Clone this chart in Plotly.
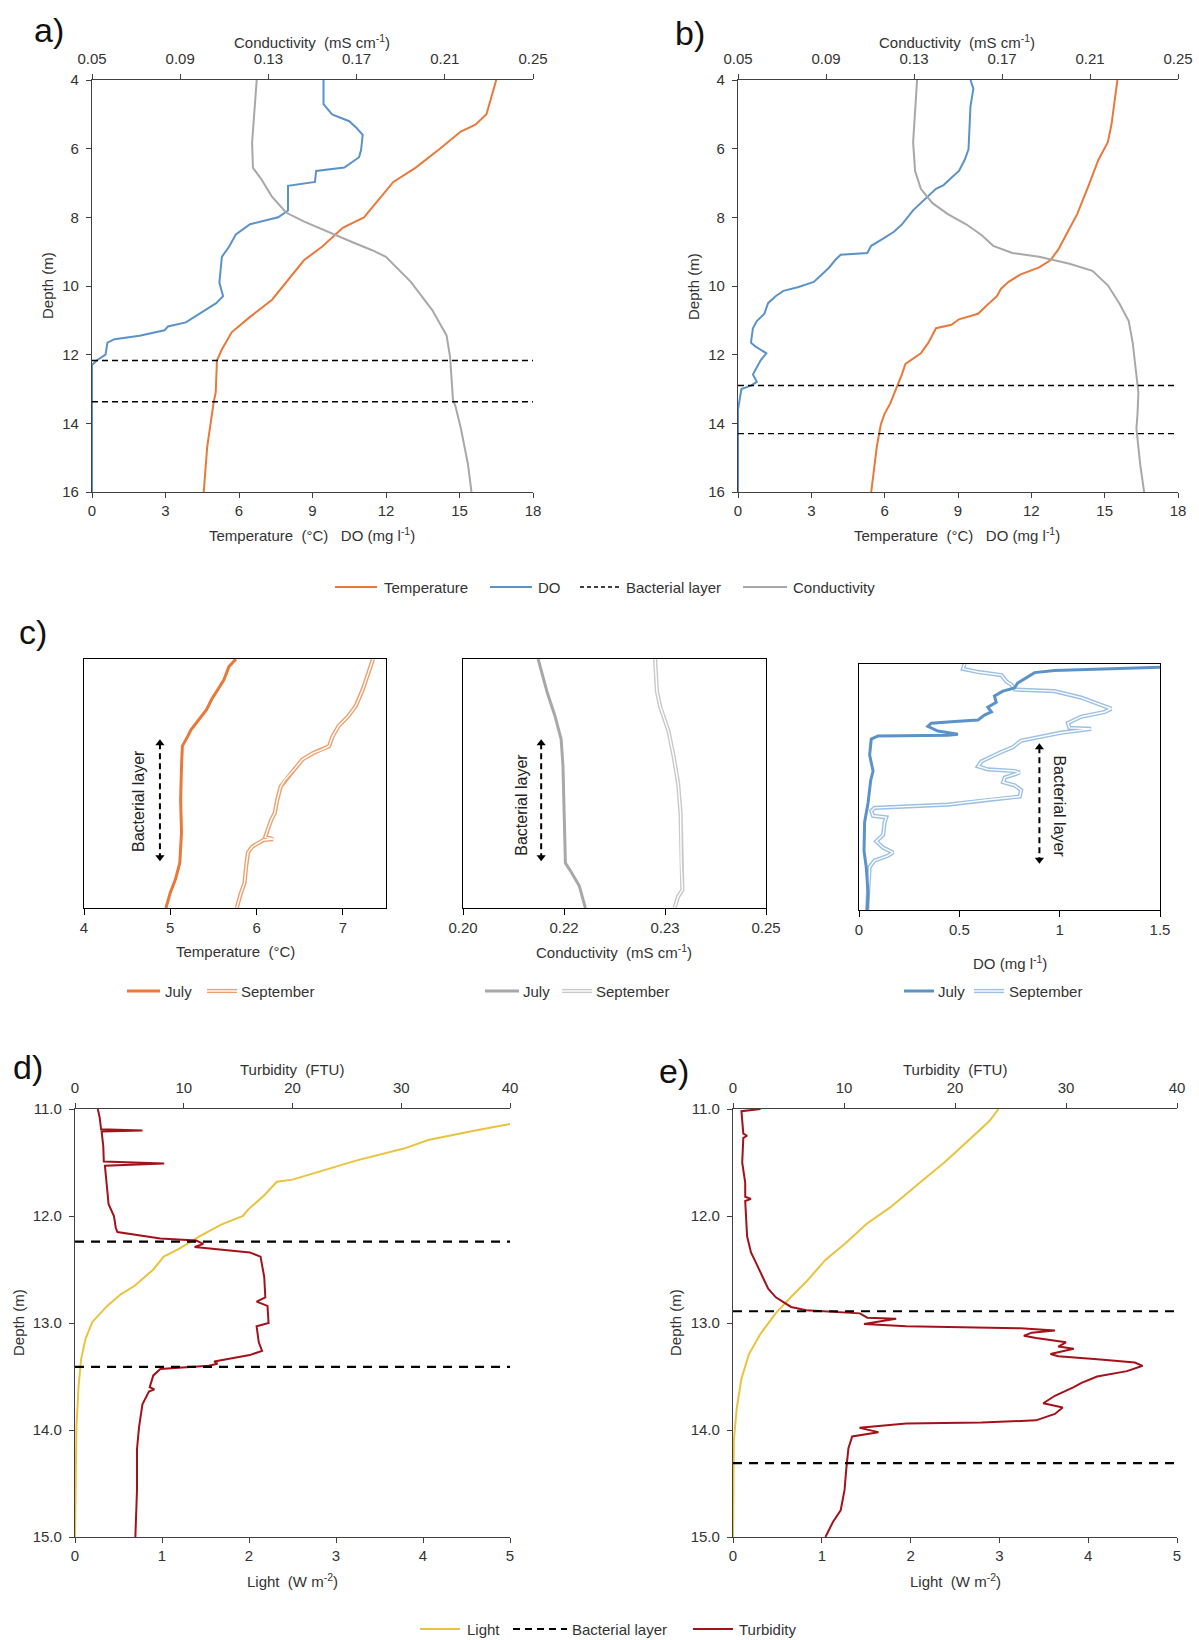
import plotly.graph_objects as go

W, H = 1199, 1640
def px(x): return x / W
def py(y): return 1 - y / H

# ---------------- DATA ----------------
# Panel a (July)
a_temp_depth = [4.0, 5.0, 5.3, 5.5, 6.0, 6.56, 6.97, 7.5, 8.0, 8.3, 8.85, 9.25, 9.9, 10.4, 10.9, 11.35, 11.85, 12.17, 13.1, 13.37, 14.7, 16.0]
a_temp = [16.5, 16.1, 15.65, 15.05, 14.2, 13.2, 12.3, 11.7, 11.1, 10.25, 9.4, 8.65, 7.9, 7.35, 6.45, 5.7, 5.3, 5.1, 5.05, 4.97, 4.7, 4.56]
a_do_depth = [4.0, 4.7, 5.0, 5.2, 5.4, 5.6, 6.05, 6.25, 6.55, 6.65, 6.97, 7.08, 7.8, 8.0, 8.2, 8.5, 8.85, 9.15, 9.9, 10.3, 10.5, 10.8, 11.06, 11.18, 11.29, 11.45, 11.55, 11.65, 12.0, 12.17, 12.3, 16.0]
a_do = [9.45, 9.45, 9.8, 10.5, 10.8, 11.05, 10.98, 10.9, 10.3, 9.15, 9.1, 8.0, 8.0, 7.6, 6.45, 5.87, 5.6, 5.3, 5.2, 5.35, 5.07, 4.4, 3.83, 3.1, 2.96, 1.94, 0.92, 0.63, 0.55, 0.19, 0.0, 0.0]
a_cond_depth = [4.0, 5.83, 6.56, 6.87, 7.39, 7.86, 8.12, 8.43, 8.74, 8.95, 9.15, 9.88, 10.7, 11.44, 12.07, 13.31, 13.52, 14.15, 15.19, 16.0]
a_cond = [0.1247, 0.1226, 0.123, 0.1266, 0.1315, 0.138, 0.146, 0.157, 0.1687, 0.1768, 0.1833, 0.1946, 0.2043, 0.2108, 0.2124, 0.2137, 0.2149, 0.2173, 0.2205, 0.2221]
a_layer = [12.17, 13.37]

# Panel b (September)
b_temp_depth = [4.0, 5.29, 5.81, 6.13, 6.33, 7.06, 7.9, 8.42, 8.94, 9.25, 9.46, 9.67, 9.88, 10.08, 10.29, 10.6, 10.81, 10.97, 11.13, 11.23, 11.65, 11.96, 12.27, 12.58, 13.0, 13.42, 13.73, 14.04, 14.67, 16.0]
b_temp = [15.52, 15.28, 15.13, 14.9, 14.74, 14.35, 13.88, 13.49, 13.1, 12.78, 12.32, 11.54, 11.07, 10.76, 10.6, 10.13, 9.82, 9.04, 8.73, 8.1, 7.79, 7.48, 6.85, 6.7, 6.46, 6.23, 5.99, 5.84, 5.68, 5.45]
b_do_depth = [4.0, 4.25, 4.77, 6.02, 6.33, 6.65, 6.85, 7.06, 7.17, 7.48, 7.79, 8.21, 8.42, 8.63, 8.83, 9.04, 9.09, 9.25, 9.46, 9.67, 9.88, 10.03, 10.14, 10.29, 10.5, 10.81, 11.02, 11.23, 11.65, 11.75, 11.96, 12.17, 12.38, 12.58, 12.79, 12.9, 13.0, 13.42, 13.6, 16.0]
b_do = [9.51, 9.63, 9.51, 9.43, 9.27, 9.04, 8.73, 8.41, 8.1, 7.63, 7.17, 6.7, 6.38, 5.92, 5.45, 5.29, 4.2, 3.97, 3.73, 3.42, 3.1, 2.48, 1.86, 1.55, 1.23, 1.08, 0.77, 0.61, 0.53, 0.69, 1.16, 0.92, 0.77, 0.61, 0.77, 0.53, 0.14, 0.06, 0.0, 0.0]
b_cond_depth = [4.0, 4.77, 5.81, 6.65, 7.17, 7.58, 7.9, 8.21, 8.52, 8.83, 9.04, 9.15, 9.35, 9.56, 9.98, 10.5, 11.02, 11.65, 12.58, 13.1, 13.73, 14.15, 15.19, 16.0]
b_cond = [0.1314, 0.1305, 0.1296, 0.1305, 0.1331, 0.1383, 0.1452, 0.1539, 0.1608, 0.166, 0.1747, 0.1869, 0.2007, 0.2111, 0.2181, 0.2233, 0.2276, 0.2294, 0.2311, 0.232, 0.2316, 0.2311, 0.2328, 0.2346]
b_layer = [12.9, 14.3]

# Panel c (close-up around bacterial layer, relative depth)
c_jul_temp_depth = [11.3, 11.38, 11.52, 11.62, 11.72, 11.83, 11.93, 12.04, 12.11, 12.21, 12.42, 12.77, 13.11, 13.43, 13.6, 13.74, 13.9]
c_jul_temp = [5.76, 5.68, 5.62, 5.55, 5.48, 5.42, 5.33, 5.24, 5.2, 5.14, 5.13, 5.12, 5.13, 5.11, 5.06, 5.0, 4.95]
c_sep_temp_depth = [11.3, 11.48, 11.62, 11.79, 11.9, 12.0, 12.11, 12.21, 12.25, 12.28, 12.35, 12.45, 12.56, 12.63, 12.77, 12.91, 12.98, 13.08, 13.16, 13.18, 13.19, 13.26, 13.32, 13.46, 13.64, 13.74, 13.9]
c_sep_temp = [7.35, 7.28, 7.23, 7.15, 7.06, 6.95, 6.88, 6.84, 6.75, 6.66, 6.53, 6.44, 6.33, 6.28, 6.24, 6.21, 6.17, 6.13, 6.1, 6.19, 6.08, 5.95, 5.9, 5.88, 5.86, 5.82, 5.77]
c_jul_cond_depth = [11.3, 11.48, 11.65, 11.9, 12.14, 12.42, 13.11, 13.43, 13.53, 13.67, 13.81, 13.9]
c_jul_cond = [0.2124, 0.2132, 0.2139, 0.2152, 0.2162, 0.2165, 0.2167, 0.2169, 0.2179, 0.2192, 0.2198, 0.2202]
c_sep_cond_depth = [11.3, 11.64, 11.81, 12.05, 12.33, 12.6, 12.91, 13.43, 13.71, 13.78, 13.9]
c_sep_cond = [0.2317, 0.232, 0.2326, 0.2339, 0.2348, 0.2355, 0.2359, 0.236, 0.2362, 0.2355, 0.2349]
c_jul_do_depth = [11.334, 11.368, 11.391, 11.452, 11.503, 11.553, 11.587, 11.638, 11.705, 11.756, 11.807, 11.84, 11.891, 11.908, 11.925, 11.959, 12.009, 12.043, 12.053, 12.06, 12.094, 12.262, 12.431, 12.533, 12.769, 12.972, 13.276, 13.444, 13.714, 13.9]
c_jul_do = [1.5, 0.974, 0.875, 0.825, 0.79, 0.775, 0.717, 0.675, 0.684, 0.642, 0.66, 0.625, 0.593, 0.477, 0.36, 0.343, 0.393, 0.493, 0.443, 0.095, 0.061, 0.053, 0.07, 0.058, 0.045, 0.028, 0.025, 0.036, 0.045, 0.041]
c_sep_do_depth = [11.3, 11.351, 11.384, 11.418, 11.486, 11.519, 11.57, 11.587, 11.655, 11.722, 11.773, 11.807, 11.857, 11.925, 11.975, 11.986, 12.026, 12.11, 12.178, 12.229, 12.33, 12.381, 12.414, 12.431, 12.448, 12.499, 12.549, 12.583, 12.634, 12.701, 12.735, 12.786, 12.82, 12.853, 12.904, 12.921, 12.972, 13.107, 13.174, 13.242, 13.292, 13.326, 13.377, 13.444, 13.714, 13.9]
c_sep_do = [0.526, 0.518, 0.593, 0.71, 0.735, 0.76, 0.776, 0.974, 1.107, 1.19, 1.257, 1.224, 1.107, 1.041, 1.049, 1.157, 1.007, 0.808, 0.767, 0.71, 0.61, 0.593, 0.643, 0.776, 0.801, 0.727, 0.718, 0.776, 0.808, 0.801, 0.643, 0.443, 0.078, 0.061, 0.07, 0.136, 0.128, 0.12, 0.086, 0.12, 0.169, 0.145, 0.078, 0.053, 0.045, 0.041]
c_layer = [12.18, 13.37]

# Panel d (July light / turbidity)
d_light_depth = [11.14, 11.2, 11.29, 11.37, 11.48, 11.58, 11.66, 11.68, 11.81, 11.94, 12.0, 12.08, 12.19, 12.31, 12.38, 12.5, 12.65, 12.73, 12.84, 12.99, 13.15, 13.34, 13.6, 13.98, 14.56, 15.0]
d_light = [5.0, 4.6, 4.06, 3.78, 3.24, 2.83, 2.5, 2.32, 2.17, 1.99, 1.93, 1.68, 1.43, 1.19, 1.02, 0.9, 0.69, 0.53, 0.37, 0.2, 0.12, 0.07, 0.04, 0.016, 0.004, 0.0]
d_turb_depth = [11.0, 11.08, 11.19, 11.2, 11.21, 11.35, 11.49, 11.51, 11.53, 11.69, 11.89, 12.0, 12.11, 12.15, 12.21, 12.23, 12.26, 12.29, 12.34, 12.38, 12.57, 12.76, 12.8, 12.84, 13.0, 13.03, 13.18, 13.26, 13.3, 13.36, 13.38, 13.4, 13.43, 13.49, 13.6, 13.62, 13.64, 13.76, 13.98, 14.18, 14.56, 15.0]
d_turb = [2.1, 2.27, 2.4, 6.2, 2.45, 2.6, 2.65, 8.2, 2.75, 2.92, 3.09, 3.58, 3.75, 3.9, 7.85, 11.14, 11.8, 11.0, 16.07, 17.06, 17.4, 17.5, 16.7, 17.7, 17.8, 16.7, 16.9, 17.2, 16.07, 12.8, 13.1, 12.3, 7.85, 7.2, 6.87, 7.3, 6.8, 6.2, 5.88, 5.7, 5.7, 5.55]
d_layer = [12.24, 13.41]

# Panel e (September light / turbidity)
e_light_depth = [11.0, 11.11, 11.31, 11.5, 11.65, 11.8, 11.92, 12.07, 12.26, 12.41, 12.61, 12.76, 12.91, 13.1, 13.29, 13.52, 13.79, 14.1, 15.0]
e_light = [2.99, 2.89, 2.63, 2.38, 2.16, 1.94, 1.77, 1.51, 1.26, 1.04, 0.83, 0.65, 0.48, 0.31, 0.18, 0.095, 0.043, 0.009, 0.0]
e_turb_depth = [11.0, 11.02, 11.23, 11.25, 11.27, 11.5, 11.69, 11.82, 11.84, 11.86, 12.19, 12.34, 12.45, 12.57, 12.68, 12.76, 12.85, 12.88, 12.91, 12.95, 12.96, 13.01, 13.03, 13.05, 13.07, 13.09, 13.12, 13.14, 13.18, 13.22, 13.24, 13.29, 13.31, 13.34, 13.37, 13.4, 13.45, 13.5, 13.56, 13.6, 13.68, 13.75, 13.79, 13.85, 13.91, 13.93, 13.94, 13.98, 14.02, 14.06, 14.17, 14.37, 14.56, 14.75, 14.86, 15.0]
e_turb = [2.48, 0.76, 0.93, 1.27, 0.93, 0.83, 1.1, 1.1, 1.62, 1.1, 1.27, 1.62, 2.13, 2.65, 3.17, 3.86, 5.23, 6.6, 11.43, 12.1, 14.7, 11.8, 15.6, 25.9, 29.0, 26.9, 26.2, 27.3, 30.0, 29.3, 30.7, 28.6, 29.3, 33.1, 36.2, 36.9, 35.5, 32.8, 31.4, 30.7, 29.0, 27.95, 29.7, 29.0, 27.3, 22.4, 15.6, 11.4, 13.1, 10.74, 10.4, 10.2, 10.05, 9.7, 9.0, 8.33]
e_layer = [12.89, 14.31]

# tick definitions
ab_x_ticks = [0, 3, 6, 9, 12, 15, 18]
ab_cond_ticks = [0.05, 0.09, 0.13, 0.17, 0.21, 0.25]
ab_cond_labels = ["0.05", "0.09", "0.13", "0.17", "0.21", "0.25"]
ab_depth_ticks = [4, 6, 8, 10, 12, 14, 16]
c1_ticks = [4, 5, 6, 7]
c2_ticks = [0.20, 0.216667, 0.233333, 0.25]
c2_labels = ["0.20", "0.22", "0.23", "0.25"]
c3_ticks = [0, 0.5, 1, 1.5]
c3_labels = ["0", "0.5", "1", "1.5"]
de_light_ticks = [0, 1, 2, 3, 4, 5]
de_turb_ticks = [0, 10, 20, 30, 40]
de_depth_ticks = [11, 12, 13, 14, 15]
de_depth_labels = ["11.0", "12.0", "13.0", "14.0", "15.0"]

# ---------------- STYLE ----------------
FONT = "Liberation Sans, Arial, sans-serif"
TXT = "#333333"
AX = "#404040"
ORANGE = "#E8793A"
ORANGE_L = "#EDA06E"
BLUE = "#5B93C9"
BLUE_L = "#9CC0E4"
GRAY = "#A8A8A8"
GRAY_L = "#C9C9C9"
YELLOW = "#E9C33E"
RED = "#A3121A"

fig = go.Figure()

def line(x, y, xa, ya, color, width=2, dash=None):
    fig.add_trace(go.Scatter(x=x, y=y, xaxis=xa, yaxis=ya, mode="lines",
                             line=dict(color=color, width=width, dash=dash),
                             showlegend=False, hoverinfo="skip"))

def double_line(x, y, xa, ya, color):
    line(x, y, xa, ya, color, width=4.2)
    line(x, y, xa, ya, "white", width=1.4)

# panel a
line(a_cond, a_cond_depth, "x2", "y", GRAY)
line(a_temp, a_temp_depth, "x", "y", ORANGE)
line(a_do, a_do_depth, "x", "y", BLUE)
# panel b
line(b_cond, b_cond_depth, "x4", "y2", GRAY)
line(b_temp, b_temp_depth, "x3", "y2", ORANGE)
line(b_do, b_do_depth, "x3", "y2", BLUE)
# panel c
line(c_jul_temp, c_jul_temp_depth, "x5", "y3", ORANGE, width=3)
double_line(c_sep_temp, c_sep_temp_depth, "x5", "y3", ORANGE_L)
line(c_jul_cond, c_jul_cond_depth, "x6", "y4", GRAY, width=3)
double_line(c_sep_cond, c_sep_cond_depth, "x6", "y4", GRAY_L)
double_line(c_sep_do, c_sep_do_depth, "x7", "y5", BLUE_L)
line(c_jul_do, c_jul_do_depth, "x7", "y5", BLUE, width=3)
# panel d
line(d_light, d_light_depth, "x8", "y6", YELLOW)
line(d_turb, d_turb_depth, "x9", "y6", RED)
# panel e
line(e_light, e_light_depth, "x10", "y7", YELLOW)
line(e_turb, e_turb_depth, "x11", "y7", RED)

# bacterial layer arrows in panel c
arrow_pos = [("x5", "y3", 4.88), ("x6", "y4", 0.2129), ("x7", "y5", 0.899)]
for xa, ya, xv in arrow_pos:
    fig.add_trace(go.Scatter(x=[xv, xv], y=c_layer, xaxis=xa, yaxis=ya,
                             mode="lines+markers",
                             line=dict(color="black", width=2, dash="6px,4px"),
                             marker=dict(symbol=["triangle-up", "triangle-down"], size=8, color="black"),
                             showlegend=False, hoverinfo="skip"))

# ---------------- AXES ----------------
tickfont = dict(family=FONT, size=15, color=TXT)

def base_axis(**kw):
    d = dict(showgrid=False, zeroline=False, showline=True, linecolor=AX, linewidth=1.3,
             ticks="outside", ticklen=5, tickcolor=AX, tickwidth=1.2, tickfont=tickfont)
    d.update(kw)
    return d

a_dom = [px(92), px(533)]
b_dom = [px(738), px(1178)]
ab_ydom = [py(492), py(80)]
c1_dom = [px(84), px(386)]
c2_dom = [px(463), px(766)]
c3_dom = [px(859), px(1160)]
c12_ydom = [py(908), py(659)]
c3_ydom = [py(910), py(664)]
d_dom = [px(75), px(510)]
e_dom = [px(733), px(1177)]
de_ydom = [py(1537), py(1109)]

layout = dict(
    width=W, height=H, margin=dict(l=0, r=0, t=0, b=0),
    paper_bgcolor="white", plot_bgcolor="white", template="none",
    font=dict(family=FONT, color=TXT, size=15), showlegend=False,
    # a
    xaxis=base_axis(domain=a_dom, range=[0, 18], tickvals=ab_x_ticks, anchor="y"),
    xaxis2=base_axis(overlaying="x", side="top", range=[0.05, 0.25], tickvals=ab_cond_ticks,
                     ticktext=ab_cond_labels, anchor="y", ticklabelstandoff=4),
    yaxis=base_axis(domain=ab_ydom, range=[16, 4], tickvals=ab_depth_ticks, anchor="x", ticklabelstandoff=4),
    # b
    xaxis3=base_axis(domain=b_dom, range=[0, 18], tickvals=ab_x_ticks, anchor="y2"),
    xaxis4=base_axis(overlaying="x3", side="top", range=[0.05, 0.25], tickvals=ab_cond_ticks,
                     ticktext=ab_cond_labels, anchor="y2", ticklabelstandoff=4),
    yaxis2=base_axis(domain=ab_ydom, range=[16, 4], tickvals=ab_depth_ticks, anchor="x3", ticklabelstandoff=4),
    # c
    xaxis5=base_axis(domain=c1_dom, range=[4, 7.5], tickvals=c1_ticks, anchor="y3", mirror=True,
                     linecolor="black", tickcolor="black", ticklen=6),
    yaxis3=base_axis(domain=c12_ydom, range=[13.9, 11.3], anchor="x5", mirror=True, ticks="",
                     showticklabels=False, linecolor="black"),
    xaxis6=base_axis(domain=c2_dom, range=[0.20, 0.25], tickvals=c2_ticks, ticktext=c2_labels,
                     anchor="y4", mirror=True, linecolor="black", tickcolor="black", ticklen=6),
    yaxis4=base_axis(domain=c12_ydom, range=[13.9, 11.3], anchor="x6", mirror=True, ticks="",
                     showticklabels=False, linecolor="black"),
    xaxis7=base_axis(domain=c3_dom, range=[0, 1.5], tickvals=c3_ticks, ticktext=c3_labels,
                     anchor="y5", mirror=True, linecolor="black", tickcolor="black", ticklen=6),
    yaxis5=base_axis(domain=c3_ydom, range=[13.9, 11.3], anchor="x7", mirror=True, ticks="",
                     showticklabels=False, linecolor="black"),
    # d
    xaxis8=base_axis(domain=d_dom, range=[0, 5], tickvals=de_light_ticks, anchor="y6"),
    xaxis9=base_axis(overlaying="x8", side="top", range=[0, 40], tickvals=de_turb_ticks, anchor="y6",
                     ticklabelstandoff=4),
    yaxis6=base_axis(domain=de_ydom, range=[15, 11], tickvals=de_depth_ticks, ticktext=de_depth_labels,
                     anchor="x8", ticklabelstandoff=4),
    # e
    xaxis10=base_axis(domain=e_dom, range=[0, 5], tickvals=de_light_ticks, anchor="y7"),
    xaxis11=base_axis(overlaying="x10", side="top", range=[0, 40], tickvals=de_turb_ticks, anchor="y7",
                      ticklabelstandoff=4),
    yaxis7=base_axis(domain=de_ydom, range=[15, 11], tickvals=de_depth_ticks, ticktext=de_depth_labels,
                     anchor="x10", ticklabelstandoff=4),
)
fig.update_layout(**layout)

# ---------------- SHAPES (bacterial layer lines) ----------------
shapes = []
for xref, yref, layer, w, dash in [("x domain", "y", a_layer, 1.4, "6px,4px"),
                                    ("x3 domain", "y2", b_layer, 1.4, "6px,4px"),
                                    ("x8 domain", "y6", d_layer, 2.2, "9px,7px"),
                                    ("x10 domain", "y7", e_layer, 2.2, "9px,7px")]:
    for dv in layer:
        shapes.append(dict(type="line", xref=xref, yref=yref, x0=0, x1=1, y0=dv, y1=dv,
                           line=dict(color="black", width=w, dash=dash)))

# legend symbols (paper coordinates)
def leg_line(x0, x1, y, color, width=2, dash=None):
    shapes.append(dict(type="line", xref="paper", yref="paper", x0=px(x0), x1=px(x1), y0=py(y), y1=py(y),
                       line=dict(color=color, width=width, dash=dash)))

def leg_double(x0, x1, y, color):
    leg_line(x0, x1, y, color, width=4.2)
    leg_line(x0, x1, y, "white", width=1.4)

# row 1 legend
leg_line(335, 377, 587, ORANGE)
leg_line(490, 532, 587, BLUE)
leg_line(580, 620, 587, "black", width=1.4, dash="4px,3px")
leg_line(743, 787, 587, GRAY)
# c legends
leg_line(127, 160, 991, ORANGE, width=3)
leg_double(207, 237, 991, ORANGE_L)
leg_line(485, 519, 991, GRAY, width=3)
leg_double(562, 592, 991, GRAY_L)
leg_line(904, 934, 991, BLUE, width=3)
leg_double(974, 1004, 991, BLUE_L)
# bottom legend
leg_line(420, 460, 1629, YELLOW)
leg_line(513, 567, 1629, "black", width=2, dash="7px,5px")
leg_line(693, 733, 1629, RED)

fig.update_layout(shapes=shapes)

# ---------------- ANNOTATIONS ----------------
ann = []
def text(x, y, s, size=15, xanchor="center", angle=0, color=TXT):
    ann.append(dict(x=px(x), y=py(y), xref="paper", yref="paper", text=s, showarrow=False,
                    xanchor=xanchor, yanchor="middle", textangle=angle,
                    font=dict(family=FONT, size=size, color=color)))

NB = "\u00a0"
# panel letters
for lab, x, y in [("a)", 32, 30), ("b)", 673, 33), ("c)", 17, 632), ("d)", 11, 1067), ("e)", 657, 1071)]:
    text(x, y, lab, size=34, xanchor="left", color="#111111")

cond_title = "Conductivity" + NB * 2 + "(mS cm<sup>-1</sup>)"
tdo_title = "Temperature" + NB * 2 + "(°C)" + NB * 3 + "DO (mg l<sup>-1</sup>)"
for cx, ytx in [(312, 48), (957, 694)]:
    text(cx, 41, cond_title)
    text(cx, 534, tdo_title)
    text(ytx, 286, "Depth (m)", angle=-90)

text(235, 952, "Temperature" + NB * 2 + "(°C)")
text(614, 952, cond_title)
text(1010, 962, "DO (mg l<sup>-1</sup>)")

for cx, ytx in [(292, 18), (955, 675)]:
    text(cx, 1069, "Turbidity" + NB * 2 + "(FTU)")
    text(cx, 1580, "Light" + NB * 2 + "(W m<sup>-2</sup>)")
    text(ytx, 1323, "Depth (m)", angle=-90)

# legend texts
text(470, 587, "Temperature", xanchor="right")
text(536, 587, "DO", xanchor="left")
text(624, 587, "Bacterial layer", xanchor="left")
text(791, 587, "Conductivity", xanchor="left")
for x0 in [163, 521, 936]:
    text(x0, 991, "July", xanchor="left")
for x0 in [239, 594, 1007]:
    text(x0, 991, "September", xanchor="left")
text(465, 1629, "Light", xanchor="left")
text(570, 1629, "Bacterial layer", xanchor="left")
text(737, 1629, "Turbidity", xanchor="left")

# Bacterial layer labels inside panel c (data coordinates)
for xa, ya, xv, yv, ang in [("x5", "y3", 4.64, 12.78, -90), ("x6", "y4", 0.2096, 12.82, -90),
                            ("x7", "y5", 0.999, 12.81, 90)]:
    ann.append(dict(x=xv, y=yv, xref=xa, yref=ya, text="Bacterial layer", showarrow=False,
                    textangle=ang, font=dict(family=FONT, size=16, color="#222222")))

fig.update_layout(annotations=ann)

fig.write_html("out.html", config={"displayModeBar": False},
               post_script="document.body.style.margin='0';document.body.style.padding='0';"
                           "document.body.style.overflow='hidden';")
